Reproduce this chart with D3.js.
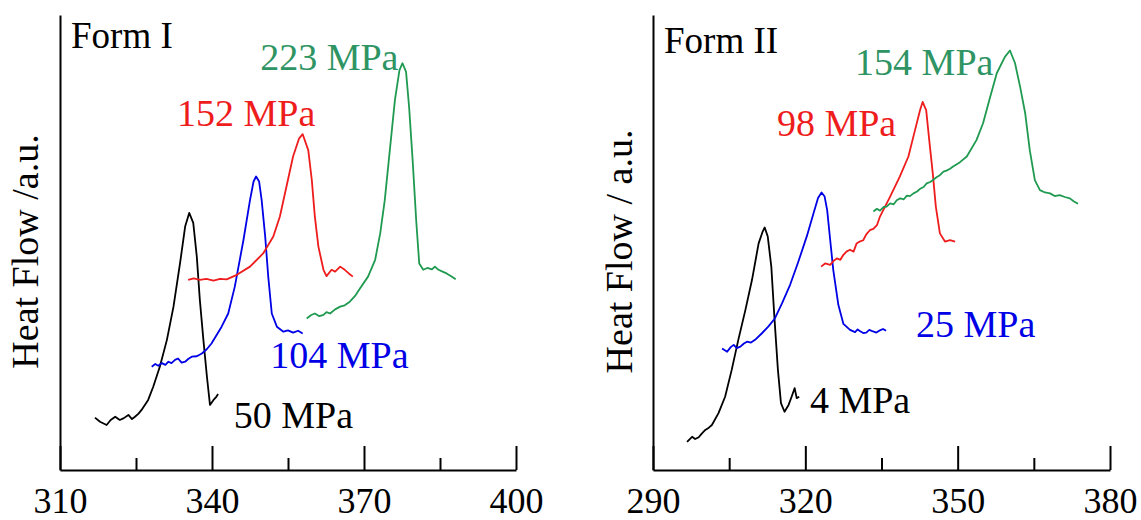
<!DOCTYPE html>
<html>
<head>
<meta charset="utf-8">
<script src="https://cdn.jsdelivr.net/npm/d3@7"></script>
<style>
  html, body { margin: 0; padding: 0; background: #fff; }
  svg text { font-family: "Liberation Serif", "Times New Roman", Times, "DejaVu Serif", serif; }
</style>
</head>
<body>
<div id="chart"></div>
<script>
// ---- data: temperature (°C) and heat flow (a.u.) ----

// Form I
const formI_50 = [
  [316.9, 1.15], [317.9, 1.06], [319.2, 0.99], [320.0, 1.10], [320.9, 1.17], [321.8, 1.10],
  [322.6, 1.14], [323.5, 1.21], [324.2, 1.12], [324.8, 1.17], [325.5, 1.24], [326.1, 1.32],
  [327.4, 1.54], [328.4, 1.83], [329.7, 2.27], [331.1, 2.86], [332.4, 3.59], [333.7, 4.55],
  [334.7, 5.35], [335.5, 5.65], [336.3, 5.43], [337.0, 4.69], [337.6, 3.74], [338.3, 2.86],
  [339.0, 2.05], [339.6, 1.43], [340.3, 1.54], [340.8, 1.60], [341.2, 1.67]
];
const formI_104 = [
  [328.1, 2.27], [328.8, 2.33], [329.4, 2.29], [330.1, 2.35], [330.8, 2.31], [331.4, 2.38],
  [332.0, 2.35], [332.7, 2.42], [333.3, 2.45], [334.0, 2.36], [334.7, 2.38], [335.3, 2.44],
  [336.0, 2.49], [337.0, 2.50], [338.0, 2.56], [339.0, 2.66], [339.9, 2.78], [341.9, 3.15],
  [343.2, 3.44], [344.5, 4.03], [346.2, 5.05], [347.5, 5.93], [348.2, 6.34], [348.7, 6.45],
  [349.3, 6.34], [349.8, 5.93], [350.5, 5.13], [351.1, 4.25], [351.8, 3.44], [352.8, 3.15],
  [354.1, 3.04], [355.0, 3.07], [356.0, 3.02], [357.0, 3.06], [357.9, 3.00]
];
const formI_152 = [
  [335.3, 4.18], [336.4, 4.21], [337.6, 4.18], [338.9, 4.20], [340.3, 4.16], [341.6, 4.20],
  [342.9, 4.19], [344.9, 4.29], [347.5, 4.47], [350.1, 4.76], [352.1, 5.13], [353.4, 5.57],
  [354.7, 6.23], [356.0, 6.89], [357.2, 7.29], [357.9, 7.38], [359.0, 7.03], [359.7, 6.37],
  [360.3, 5.57], [361.0, 4.91], [362.0, 4.40], [362.6, 4.26], [363.6, 4.40], [364.3, 4.36],
  [365.3, 4.47], [366.2, 4.40], [367.0, 4.32], [367.8, 4.25]
];
const formI_223 = [
  [358.7, 3.33], [359.5, 3.40], [360.3, 3.44], [361.2, 3.38], [362.0, 3.41], [362.6, 3.47],
  [363.3, 3.44], [364.3, 3.53], [365.3, 3.59], [366.2, 3.62], [367.2, 3.70], [368.2, 3.82],
  [369.2, 3.99], [370.8, 4.25], [372.2, 4.62], [373.2, 5.20], [374.1, 5.93], [375.1, 7.03],
  [376.1, 8.13], [377.0, 8.79], [377.6, 8.94], [378.3, 8.75], [378.9, 7.98], [379.6, 6.81],
  [380.3, 5.49], [380.9, 4.54], [381.7, 4.40], [382.5, 4.44], [383.4, 4.41], [384.0, 4.47],
  [384.7, 4.40], [385.5, 4.36], [386.3, 4.32], [387.2, 4.26], [388.1, 4.19]
];

// Form II
const formII_4 = [
  [296.7, 0.62], [297.7, 0.73], [298.3, 0.68], [299.0, 0.72], [299.6, 0.80], [300.3, 0.88],
  [301.0, 0.93], [301.6, 0.99], [302.9, 1.25], [304.2, 1.61], [305.5, 2.20], [306.8, 2.86],
  [308.2, 3.52], [309.5, 4.18], [310.8, 4.98], [311.6, 5.24], [312.0, 5.33], [312.6, 5.13],
  [313.3, 4.47], [313.9, 3.37], [314.6, 2.20], [315.2, 1.47], [315.9, 1.28], [316.7, 1.43],
  [317.3, 1.61], [317.9, 1.80], [318.3, 1.58], [318.8, 1.61]
];
const formII_25 = [
  [303.6, 2.67], [304.6, 2.60], [305.3, 2.70], [305.9, 2.75], [306.5, 2.68], [307.2, 2.71],
  [307.9, 2.78], [308.5, 2.82], [309.3, 2.80], [310.1, 2.86], [311.4, 3.00], [312.7, 3.15],
  [314.0, 3.33], [315.4, 3.66], [317.0, 4.07], [318.6, 4.57], [320.3, 5.14], [321.6, 5.64],
  [322.5, 5.98], [323.2, 6.10], [323.8, 6.01], [324.3, 5.71], [324.9, 5.05], [325.5, 4.40],
  [326.5, 3.63], [327.5, 3.21], [328.8, 3.08], [329.8, 3.03], [330.3, 3.09], [330.8, 3.05],
  [331.4, 3.01], [332.0, 3.02], [332.6, 3.08], [333.2, 3.05], [334.0, 3.02], [334.7, 3.07],
  [335.3, 3.10], [335.9, 3.06]
];
const formII_98 = [
  [323.1, 4.47], [323.9, 4.54], [324.9, 4.51], [325.6, 4.60], [326.2, 4.65], [326.9, 4.62],
  [327.5, 4.73], [328.1, 4.80], [328.8, 4.84], [329.5, 4.80], [330.1, 4.98], [330.7, 5.02],
  [331.4, 5.05], [332.0, 5.18], [332.7, 5.27], [333.4, 5.30], [334.1, 5.38], [334.7, 5.57],
  [336.7, 6.01], [338.6, 6.45], [340.3, 6.89], [341.6, 7.47], [342.6, 7.91], [343.1, 8.09],
  [343.8, 7.91], [344.4, 7.25], [345.1, 6.52], [345.7, 5.79], [346.5, 5.20], [347.5, 5.02],
  [348.5, 5.05], [349.5, 5.02]
];
const formII_154 = [
  [333.4, 5.68], [334.1, 5.74], [334.7, 5.70], [335.4, 5.78], [336.0, 5.79], [336.7, 5.86],
  [337.4, 5.84], [338.0, 5.93], [338.7, 5.97], [339.4, 5.95], [340.0, 6.03], [340.6, 6.02],
  [341.3, 6.08], [342.0, 6.12], [342.6, 6.18], [343.3, 6.22], [343.9, 6.30], [344.6, 6.33],
  [345.2, 6.38], [345.9, 6.44], [346.5, 6.48], [347.2, 6.56], [347.8, 6.58], [348.5, 6.62],
  [349.1, 6.67], [350.4, 6.76], [351.8, 6.89], [353.7, 7.25], [355.0, 7.62], [356.4, 8.20],
  [357.7, 8.72], [359.3, 9.08], [360.3, 9.22], [361.3, 8.94], [362.3, 8.42], [363.3, 7.84],
  [364.2, 7.03], [365.2, 6.37], [366.2, 6.15], [367.2, 6.10], [368.2, 6.08], [369.1, 6.02],
  [370.1, 6.04], [371.1, 6.00], [372.1, 5.97], [372.9, 5.90], [373.7, 5.85]
];

const panelNames = ["Form I", "Form II"];
const xDomains = [[310, 400], [290, 380]];
const majorTicks = [[310, 340, 370, 400], [290, 320, 350, 380]];
const minorTicks = [[325, 355, 385], [305, 335, 365]];
const yLabels = ["Heat Flow /a.u.", "Heat Flow / a.u."];
const seriesNames = [
  ["50 MPa", "104 MPa", "152 MPa", "223 MPa"],
  ["4 MPa", "25 MPa", "98 MPa", "154 MPa"]
];
const seriesData = [
  [formI_50, formI_104, formI_152, formI_223],
  [formII_4, formII_25, formII_98, formII_154]
];

(function () {
  // ---- layout ----
  const W = 1141, H = 520;
  const serif = "'Liberation Serif', 'Times New Roman', Times, 'DejaVu Serif', serif";
  const lineColors = ["#000000", "#0000e6", "#ee1c1c", "#1f9a50"];
  const textColors = ["#000000", "#0000e6", "#ee1c1c", "#2e9463"];
  // label anchors in data coordinates [T, heat flow]
  const labelAt = [
    [[344.3, 0.92], [351.5, 2.24], [333.1, 7.56], [349.5, 8.79]],
    [[320.9, 1.25], [341.8, 2.93], [314.4, 7.33], [329.8, 8.68]]
  ];
  const panels = [
    { left: 60, right: 516, titleY: 48, yLabelX: 38 },
    { left: 653, right: 1110, titleY: 53, yLabelX: 632 }
  ];
  const yTop = 15, yBottom = 470;

  const svg = d3.select("#chart").append("svg")
    .attr("width", W).attr("height", H)
    .attr("viewBox", `0 0 ${W} ${H}`)
    .style("font-family", serif);

  const y = d3.scaleLinear().domain([0, 10]).range([yBottom, yTop]);

  panels.forEach((p, i) => {
    const x = d3.scaleLinear().domain(xDomains[i]).range([p.left, p.right]);
    const g = svg.append("g");

    // x axis, major ticks pointing inward
    const xMajor = g.append("g")
      .attr("transform", `translate(0,${yBottom})`)
      .call(d3.axisBottom(x).tickValues(majorTicks[i]).tickSize(-24).tickSizeOuter(0).tickFormat(d3.format("d")))
      .attr("font-family", null);
    xMajor.select(".domain").attr("stroke", "#000").attr("stroke-width", 2);
    xMajor.selectAll(".tick line").attr("stroke", "#000").attr("stroke-width", 2);
    xMajor.selectAll(".tick text")
      .attr("y", 43).attr("dy", 0)
      .attr("font-size", 36).attr("fill", "#000")
      .style("font-family", serif);

    // minor ticks
    const xMinor = g.append("g")
      .attr("transform", `translate(0,${yBottom})`)
      .call(d3.axisBottom(x).tickValues(minorTicks[i]).tickSize(-12).tickFormat(""));
    xMinor.select(".domain").remove();
    xMinor.selectAll(".tick line").attr("stroke", "#000").attr("stroke-width", 2);

    // y axis, no ticks
    const yAx = g.append("g")
      .attr("transform", `translate(${p.left},0)`)
      .call(d3.axisLeft(y).tickValues([]).tickSizeOuter(0));
    yAx.select(".domain").attr("stroke", "#000").attr("stroke-width", 2);

    // y label
    g.append("text")
      .attr("transform", `translate(${p.yLabelX},${(yTop + yBottom) / 2 + 9}) rotate(-90)`)
      .attr("text-anchor", "middle")
      .attr("font-size", 38)
      .attr("fill", "#000")
      .style("font-family", serif)
      .text(yLabels[i]);

    // panel title
    g.append("text")
      .attr("x", p.left + 11).attr("y", p.titleY)
      .attr("font-size", 37)
      .attr("fill", "#000")
      .style("font-family", serif)
      .text(panelNames[i]);

    const line = d3.line().x(d => x(d[0])).y(d => y(d[1]));

    g.selectAll(".trace")
      .data(seriesData[i])
      .enter()
      .append("path")
      .attr("class", "trace")
      .attr("d", line)
      .attr("fill", "none")
      .attr("stroke", (d, k) => lineColors[k])
      .attr("stroke-width", 1.8)
      .attr("stroke-linejoin", "round");

    g.selectAll(".series-label")
      .data(seriesNames[i])
      .enter()
      .append("text")
      .attr("class", "series-label")
      .attr("x", (d, k) => x(labelAt[i][k][0]))
      .attr("y", (d, k) => y(labelAt[i][k][1]))
      .attr("font-size", 38)
      .attr("fill", (d, k) => textColors[k])
      .style("font-family", serif)
      .text(d => d);
  });
})();
</script>
</body>
</html>
